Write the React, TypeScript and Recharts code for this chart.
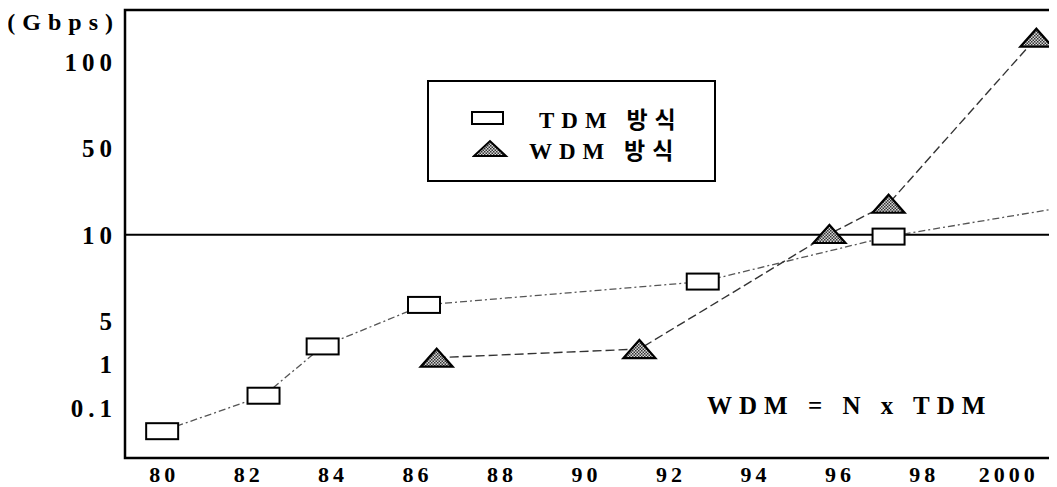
import React from 'react';
import { LineChart, Line, XAxis, YAxis, ReferenceLine, ReferenceArea, Legend } from 'recharts';

// x: year (100 = 2000); y: position on the chart's stepped Gbps scale
// (0 = 0.1, 0.5 = 1, 1 = 5, 2 = 10, 3 = 50, 4 = 100)
const tdmYears = [80.0, 82.4, 83.8, 86.2, 92.8, 97.2, 101.6];
const tdmLevels = [-0.27, 0.14, 0.71, 1.19, 1.46, 1.98, 2.34];
const wdmYears = [86.5, 91.3, 95.8, 97.2, 100.7];
const wdmLevels = [0.58, 0.68, 2.01, 2.36, 4.28];

const xTicks = [80, 82, 84, 86, 88, 90, 92, 94, 96, 98, 100];
const yTicks = [0, 0.5, 1, 2, 3, 4];
const yTickLabels = ['0.1', '1', '5', '10', '50', '100'];

const X_DOMAIN: [number, number] = [79.12, 101.07];
const Y_DOMAIN: [number, number] = [-0.58, 4.6];

const tdmData = tdmYears.map((year, i) => ({ year, level: tdmLevels[i] }));
const wdmData = wdmYears.map((year, i) => ({ year, level: wdmLevels[i] }));

const SERIF = "'Liberation Serif', 'Noto Sans CJK KR', serif";

const SquareDot = (props: any) => {
  const { cx, cy, payload, index } = props;
  if (cx == null || payload.year > X_DOMAIN[1]) return <g key={`s${index}`} />;
  return (
    <rect key={`s${index}`} x={cx - 16} y={cy - 8} width={32} height={16}
      fill="#fff" stroke="#000" strokeWidth={2} />
  );
};

const Hatch = ({ id }: { id: string }) => (
  <defs>
    <pattern id={id} width="3" height="3" patternUnits="userSpaceOnUse">
      <rect width="3" height="3" fill="#d8d8d8" />
      <rect width="1.5" height="1.5" fill="#333" />
      <rect x="1.5" y="1.5" width="1.5" height="1.5" fill="#333" />
    </pattern>
  </defs>
);

const TriangleDot = (props: any) => {
  const { cx, cy, index } = props;
  if (cx == null) return <g key={`t${index}`} />;
  const id = `hatch-${index}`;
  return (
    <g key={`t${index}`}>
      <Hatch id={id} />
      <polygon points={`${cx - 16},${cy + 9} ${cx + 16},${cy + 9} ${cx},${cy - 9}`}
        fill={`url(#${id})`} stroke="#000" strokeWidth={2.2} strokeLinejoin="miter" />
    </g>
  );
};

const YTick = ({ x, y, payload }: any) => {
  const idx = yTicks.indexOf(payload.value);
  return (
    <text x={x + 5} y={y} dy="0.35em" textAnchor="end" fontFamily={SERIF}
      fontWeight="bold" fontSize={25} letterSpacing={5} fill="#000">
      {yTickLabels[idx]}
    </text>
  );
};

const XTick = ({ x, y, payload }: any) => (
  <text x={x + 2} y={y} dy="0.71em" textAnchor="middle" fontFamily={SERIF}
    fontWeight="bold" fontSize={22} letterSpacing={4} fill="#000">
    {payload.value === 100 ? '2000' : String(payload.value)}
  </text>
);

const LegendBox = () => (
  <div style={{ width: 289, height: 102, border: '2px solid #000', boxSizing: 'border-box',
    fontFamily: SERIF, fontWeight: 'bold', fontSize: 23, color: '#000', background: '#fff' }}>
    <div style={{ display: 'flex', alignItems: 'center', height: 22, marginTop: 25 }}>
      <svg width={36} height={20} style={{ marginLeft: 41 }}>
        <rect x={2} y={4} width={31} height={12} fill="#fff" stroke="#000" strokeWidth={2} />
      </svg>
      <span style={{ marginLeft: 33, letterSpacing: 7 }}>TDM 방식</span>
    </div>
    <div style={{ display: 'flex', alignItems: 'center', height: 22, marginTop: 9 }}>
      <svg width={38} height={20} style={{ marginLeft: 43 }}>
        <Hatch id="hatch-legend" />
        <polygon points="2,17 34,17 18,2" fill="url(#hatch-legend)" stroke="#000" strokeWidth={2} />
      </svg>
      <span style={{ marginLeft: 19, letterSpacing: 7 }}>WDM 방식</span>
    </div>
  </div>
);

export default function App() {
  return (
    <div style={{ position: 'relative', width: 1049, height: 479 }}>
      <LineChart width={1049} height={479} data={tdmData}
        margin={{ top: 2, right: 5, bottom: 0, left: 0 }}>
        <XAxis type="number" dataKey="year" domain={X_DOMAIN} ticks={xTicks}
          allowDataOverflow height={29} tickSize={0} tickMargin={8}
          axisLine={false} tick={<XTick />} interval={0} />
        <YAxis type="number" domain={Y_DOMAIN} ticks={yTicks} allowDataOverflow
          width={117} tickSize={0} tickMargin={13} axisLine={false} tick={<YTick />} interval={0} />
        <ReferenceArea x1={X_DOMAIN[0]} x2={X_DOMAIN[1]} y1={Y_DOMAIN[0]} y2={Y_DOMAIN[1]}
          fill="none" stroke="#000" strokeWidth={2.5} fillOpacity={0} />
        <ReferenceLine y={2} stroke="#000" strokeWidth={2} />
        <Legend content={<LegendBox />} layout="horizontal" verticalAlign="middle" align="center"
          wrapperStyle={{ position: 'absolute', left: 419, top: 72, width: 289, height: 102 }} />
        <Line data={tdmData} dataKey="level" name="TDM 방식" stroke="#555" strokeWidth={1.3}
          strokeDasharray="7 3 2 3" dot={<SquareDot />} activeDot={false}
          isAnimationActive={false} />
        <Line data={wdmData} dataKey="level" name="WDM 방식" stroke="#333" strokeWidth={1.4}
          strokeDasharray="9 4" dot={<TriangleDot />} activeDot={false}
          isAnimationActive={false} />
      </LineChart>
      <div style={{ position: 'absolute', right: 937, top: 1, fontFamily: SERIF, fontWeight: 'bold',
        fontSize: 24, letterSpacing: 7, whiteSpace: 'nowrap', color: '#000' }}>
        (Gbps)
      </div>
      <div style={{ position: 'absolute', left: 699, top: 384, fontFamily: SERIF, fontWeight: 'bold',
        fontSize: 25, letterSpacing: 7, whiteSpace: 'nowrap', color: '#000' }}>
        WDM = N x TDM
      </div>
    </div>
  );
}
